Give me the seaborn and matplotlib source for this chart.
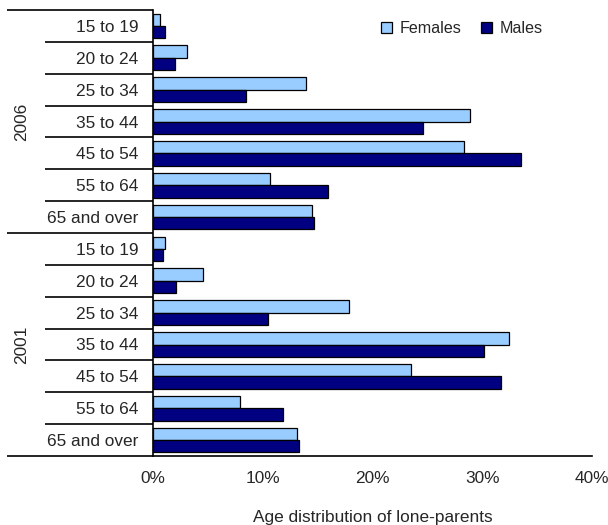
import matplotlib
matplotlib.use("Agg")
import matplotlib.pyplot as plt
from matplotlib.ticker import FuncFormatter
from matplotlib.patches import Patch
import seaborn as sns
import pandas as pd

# Age groups and census years
ages = ["15 to 19", "20 to 24", "25 to 34", "35 to 44", "45 to 54", "55 to 64", "65 and over"]
years = ["2006", "2001"]

# Share of lone-parents by age group (%)
females_2006 = [0.6, 3.1, 13.9, 28.9, 28.3, 10.7, 14.5]
males_2006 = [1.1, 2.0, 8.5, 24.6, 33.5, 15.9, 14.7]
females_2001 = [1.1, 4.6, 17.9, 32.4, 23.5, 7.9, 13.1]
males_2001 = [0.9, 2.1, 10.5, 30.2, 31.7, 11.8, 13.3]

sexes = ["Females", "Males"]
palette = {"Females": "#99CCFF", "Males": "#000080"}

rows = []
for year, fem, mal in [("2006", females_2006, males_2006), ("2001", females_2001, males_2001)]:
    for age, f, m in zip(ages, fem, mal):
        key = f"{year}|{age}"
        rows.append({"group": key, "sex": "Females", "share": f})
        rows.append({"group": key, "sex": "Males", "share": m})
df = pd.DataFrame(rows)
order = [f"{y}|{a}" for y in years for a in ages]

FS = 12.4

sns.set_theme(style="white")
plt.rcParams["font.family"] = ["Liberation Sans", "DejaVu Sans"]
plt.rcParams["font.size"] = FS

fig = plt.figure(figsize=(6.08, 5.25), dpi=100)
ax = fig.add_axes([153 / 608, 1 - 456 / 525, (592 - 153) / 608, 446 / 525])

sns.barplot(data=df, y="group", x="share", hue="sex", order=order,
            hue_order=sexes, palette=palette, orient="h", width=0.78,
            edgecolor="black", linewidth=0.9, saturation=1, legend=False, ax=ax)

ax.set_xlim(0, 40)
ax.set_ylim(len(order) - 0.5, -0.5)
ax.set_xticks([0, 10, 20, 30, 40])
ax.xaxis.set_major_formatter(FuncFormatter(lambda v, p: f"{v:.0f}%"))
ax.tick_params(axis="x", direction="out", length=4, width=1, color="black",
               pad=6.5, labelsize=FS)
ax.set_yticks(range(len(order)))
ax.set_yticklabels(ages * len(years), fontsize=FS)
ax.tick_params(axis="y", length=0, pad=10.5)
ax.set_ylabel("")
ax.set_xlabel("Age distribution of lone-parents", fontsize=FS, labelpad=17.5)

for side in ["top", "right"]:
    ax.spines[side].set_visible(False)
for side in ["left", "bottom"]:
    ax.spines[side].set_color("black")
    ax.spines[side].set_linewidth(1.2)

# Category separators drawn to the left of the axis
trans = ax.get_yaxis_transform()
short_x0 = (45 - 153) / 439
long_x0 = (7 - 153) / 439
n = len(ages)
for i in range(len(order) + 1):
    yb = i - 0.5
    x0 = long_x0 if i % n == 0 else short_x0
    ax.plot([x0, 0], [yb, yb], transform=trans, color="black", lw=1.2,
            clip_on=False, solid_capstyle="butt")

# Year labels
for j, year in enumerate(years):
    yc = j * n + (n - 1) / 2
    ax.text((21.5 - 153) / 439, yc, year, transform=trans, rotation=90,
            ha="center", va="center", fontsize=FS)

handles = [Patch(facecolor=palette[s], edgecolor="black", linewidth=0.9, label=s) for s in sexes]
ax.legend(handles=handles, loc="upper left", bbox_to_anchor=(0.494, 1.0), ncol=2,
          frameon=False, handlelength=0.7, handleheight=0.7, handletextpad=0.45,
          columnspacing=1.2, fontsize=11.6, borderaxespad=0.3)

fig.savefig("out.png", dpi=100)
